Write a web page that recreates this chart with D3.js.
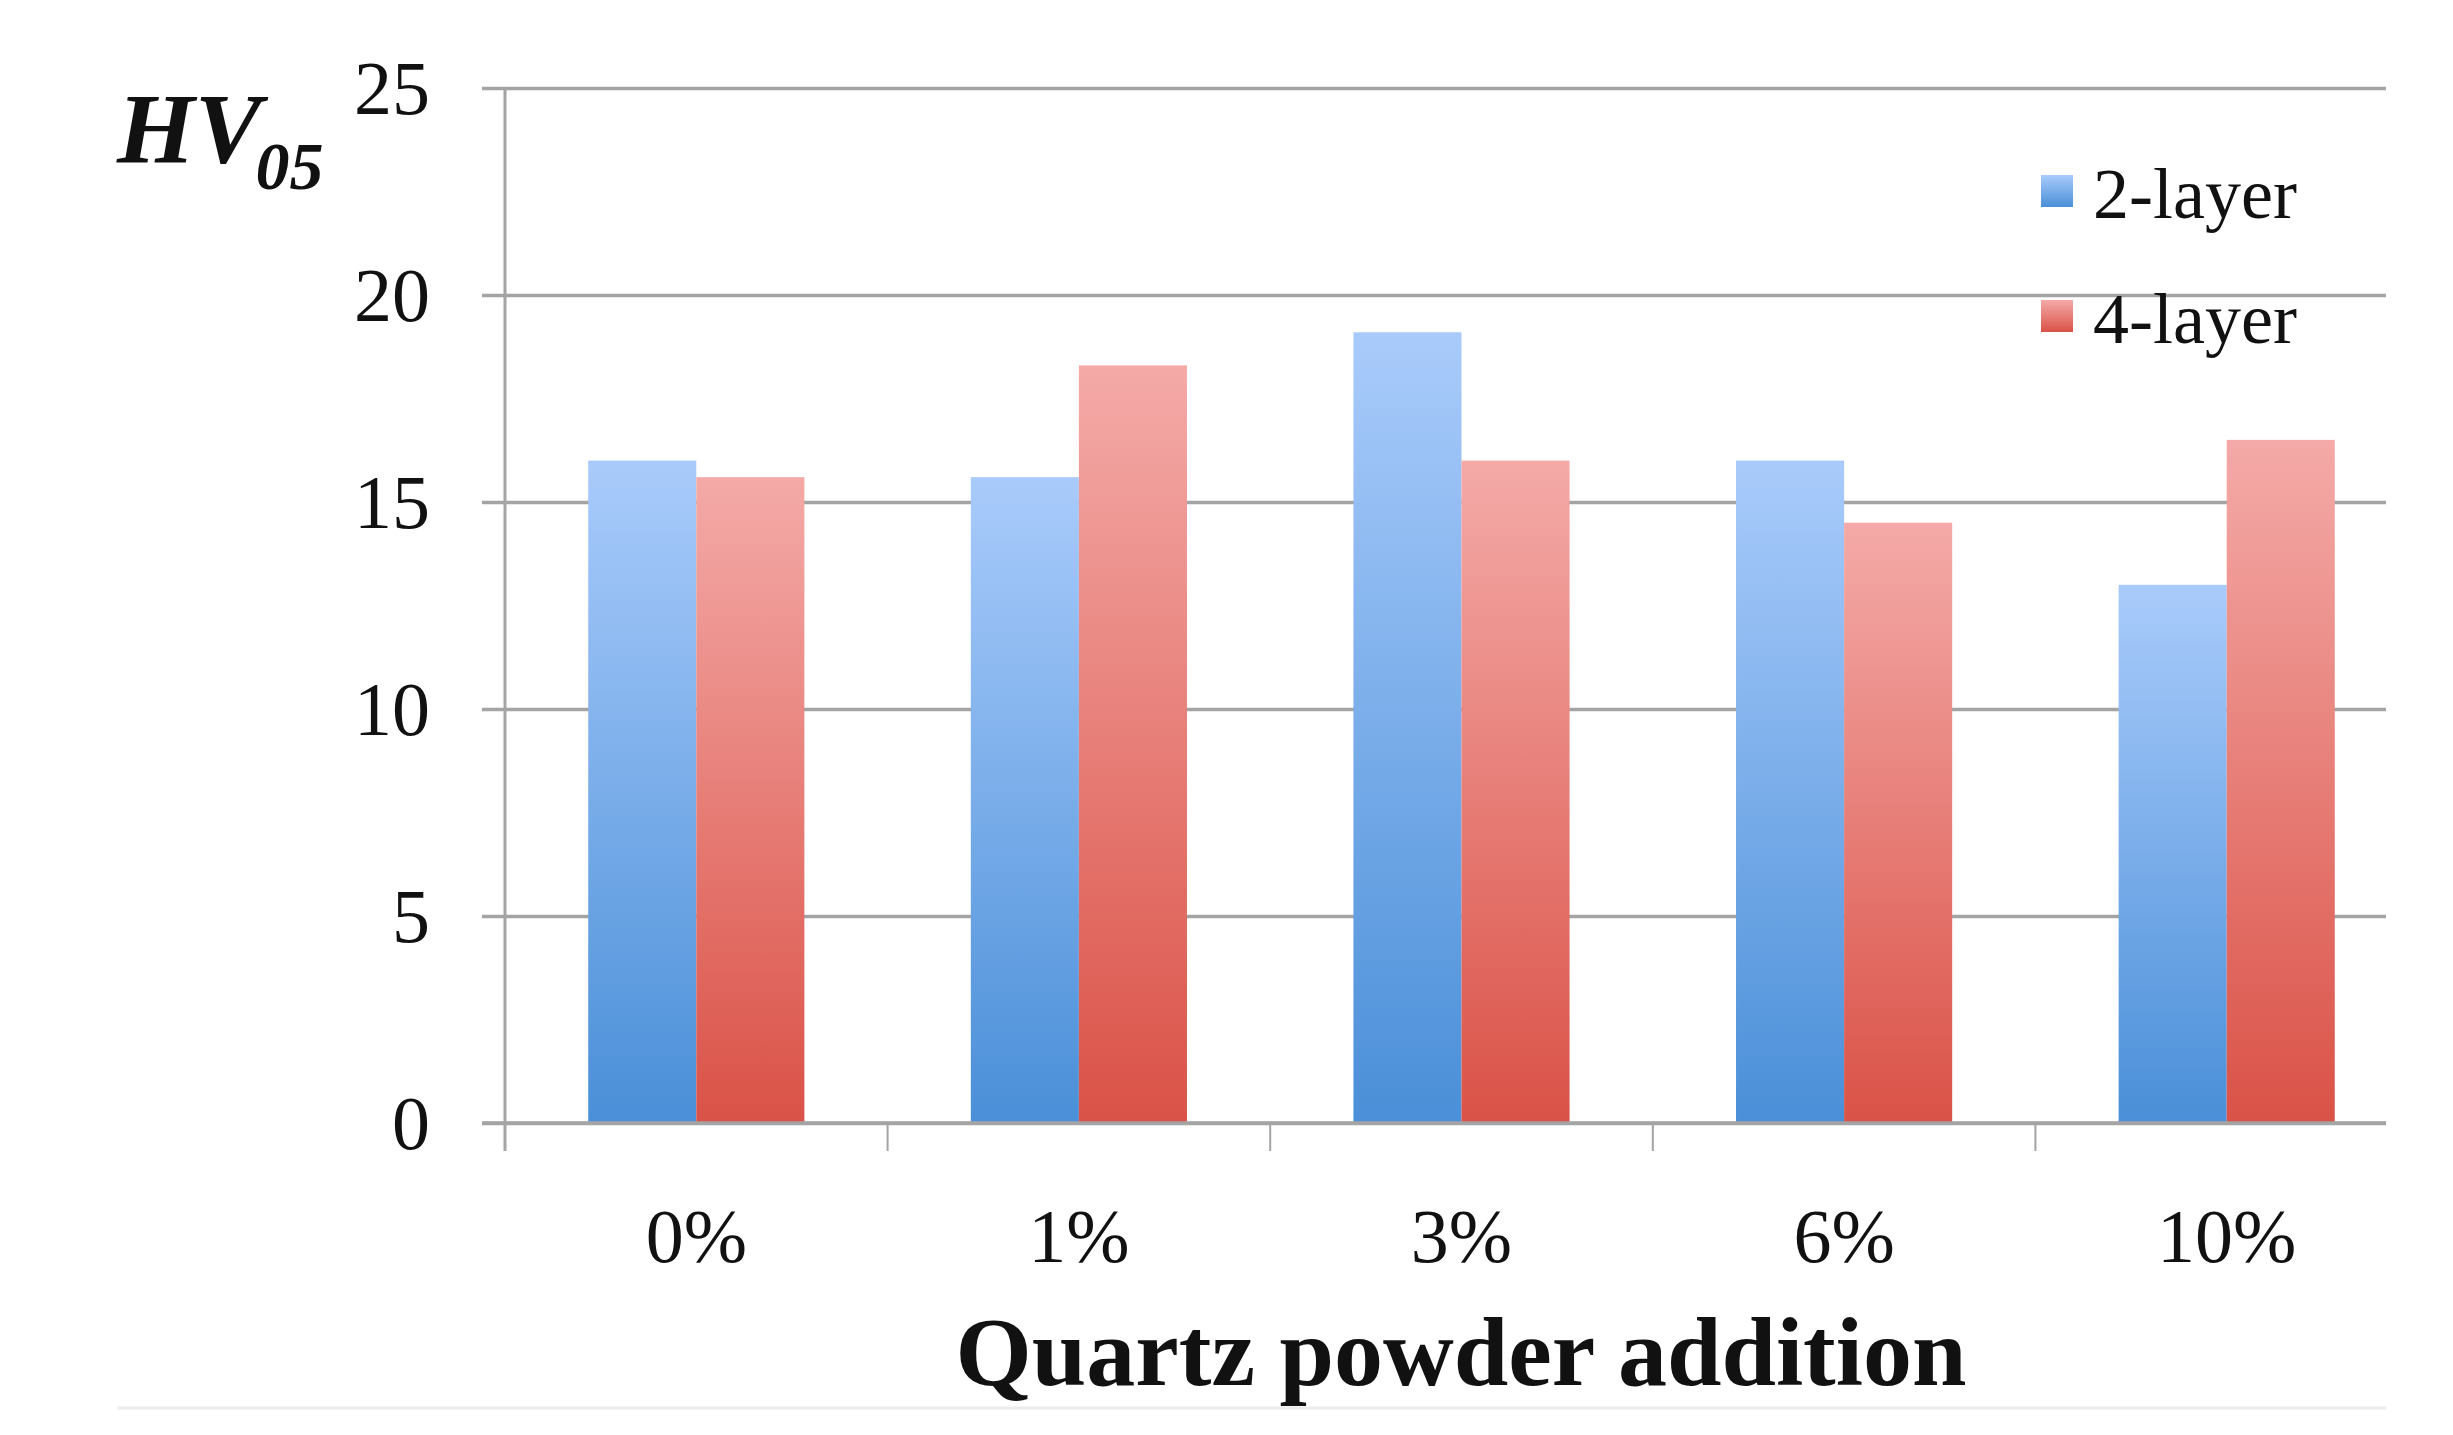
<!DOCTYPE html>
<html>
<head>
<meta charset="utf-8">
<script src="https://cdn.jsdelivr.net/npm/d3@7"></script>
<style>
  body { margin: 0; background: #fff; }
  text { font-family: "Liberation Serif", "DejaVu Serif", serif; fill: #111; }
</style>
</head>
<body>
<svg id="chart" width="2453" height="1435"></svg>
<script>
// data
const categories = ["0%", "1%", "3%", "6%", "10%"];
const seriesNames = ["2-layer", "4-layer"];
const twoLayer = [16.0, 15.6, 19.1, 16.0, 13.0];
const fourLayer = [15.6, 18.3, 16.0, 14.5, 16.5];
const yTicks = [0, 5, 10, 15, 20, 25];

var svg = d3.select('#chart');

// layout
var plot = { l: 505, r: 2386, t: 88, b: 1123 };
var bandRight = 2418;

var x = d3.scaleBand()
  .domain(categories)
  .range([plot.l, bandRight])
  .paddingInner(0).paddingOuter(0);

var xSub = d3.scaleBand()
  .domain(seriesNames)
  .range([0, x.bandwidth()])
  .paddingInner(0).paddingOuter(0.77);

var y = d3.scaleLinear()
  .domain([0, 25])
  .range([plot.b, plot.t]);

// gradients for the bars (per bar, light top -> dark bottom)
var defs = svg.append('defs');
function addGrad(id, top, bottom) {
  var g = defs.append('linearGradient').attr('id', id)
    .attr('x1', 0).attr('y1', 0).attr('x2', 0).attr('y2', 1);
  g.append('stop').attr('offset', '0%').attr('stop-color', top);
  g.append('stop').attr('offset', '100%').attr('stop-color', bottom);
}
addGrad('gBlue', '#a9cbfb', '#4a8fd8');
addGrad('gRed', '#f4aaa8', '#da5247');
var fills = { "2-layer": 'url(#gBlue)', "4-layer": 'url(#gRed)' };

// y gridlines + labels
var yAxis = d3.axisLeft(y)
  .tickValues(yTicks)
  .tickSize(-(plot.r - 482))
  .tickPadding(52);

var yG = svg.append('g')
  .attr('transform', 'translate(482,0)')
  .call(yAxis);
yG.select('.domain').remove();
yG.selectAll('.tick line')
  .attr('stroke', '#a4a4a4')
  .attr('stroke-width', 3.5);
yG.selectAll('.tick text')
  .attr('font-family', '"Liberation Serif", serif')
  .attr('font-size', 76)
  .attr('fill', '#111')
  .attr('dy', '0.34em');

// vertical axis line
svg.append('line')
  .attr('x1', plot.l).attr('x2', plot.l)
  .attr('y1', y(25)).attr('y2', y(0) + 28)
  .attr('stroke', '#a4a4a4').attr('stroke-width', 3);

// bars
var rows = categories.map((c, i) => ({ cat: c, vals: [
  { s: seriesNames[0], v: twoLayer[i] },
  { s: seriesNames[1], v: fourLayer[i] }
]}));

var groups = svg.append('g').selectAll('g')
  .data(rows)
  .enter().append('g')
  .attr('transform', d => `translate(${x(d.cat)},0)`);

groups.selectAll('rect')
  .data(d => d.vals)
  .enter().append('rect')
  .attr('x', d => xSub(d.s))
  .attr('y', d => y(d.v))
  .attr('width', xSub.bandwidth())
  .attr('height', d => y(0) - y(d.v))
  .attr('fill', d => fills[d.s]);

// x axis: labels centred in bands, ticks at band boundaries
var xAxis = d3.axisBottom(x).tickSize(0).tickPadding(0);
var xG = svg.append('g')
  .attr('transform', `translate(0,${y(0)})`)
  .call(xAxis);
xG.select('.domain').remove();
xG.selectAll('.tick text')
  .attr('font-family', '"Liberation Serif", serif')
  .attr('font-size', 76)
  .attr('fill', '#111')
  .attr('dy', 0)
  .attr('y', 139);

svg.append('g').selectAll('line')
  .data(categories)
  .enter().append('line')
  .attr('x1', d => x(d)).attr('x2', d => x(d))
  .attr('y1', y(0)).attr('y2', y(0) + 28)
  .attr('stroke', '#a4a4a4').attr('stroke-width', 2);

// re-draw zero line over the bars
svg.append('line')
  .attr('x1', 482).attr('x2', plot.r)
  .attr('y1', y(0)).attr('y2', y(0))
  .attr('stroke', '#a4a4a4').attr('stroke-width', 3.5);

// axis title
svg.append('text')
  .attr('x', 1461).attr('y', 1385)
  .attr('text-anchor', 'middle')
  .attr('font-size', 98)
  .attr('font-weight', 'bold')
  .text('Quartz powder addition');

// y label HV05
var yl = svg.append('text')
  .attr('x', 117).attr('y', 162)
  .attr('font-size', 100)
  .attr('font-weight', 'bold')
  .attr('font-style', 'italic');
yl.append('tspan').text('HV');
yl.append('tspan').attr('font-size', 68).attr('dy', 27).attr('dx', -6).text('05');

// legend
var legend = svg.append('g').attr('transform', 'translate(2041,175)');
var legItems = legend.selectAll('g')
  .data(seriesNames)
  .enter().append('g')
  .attr('transform', (d, i) => `translate(0,${i * 125})`);
legItems.append('rect')
  .attr('width', 32).attr('height', 32)
  .attr('fill', d => fills[d]);
legItems.append('text')
  .attr('x', 52).attr('y', 43)
  .attr('font-size', 72)
  .text(d => d);

// faint bottom rule
svg.append('line')
  .attr('x1', 117).attr('x2', plot.r)
  .attr('y1', 1408).attr('y2', 1408)
  .attr('stroke', '#ececec').attr('stroke-width', 3);
</script>
</body>
</html>
